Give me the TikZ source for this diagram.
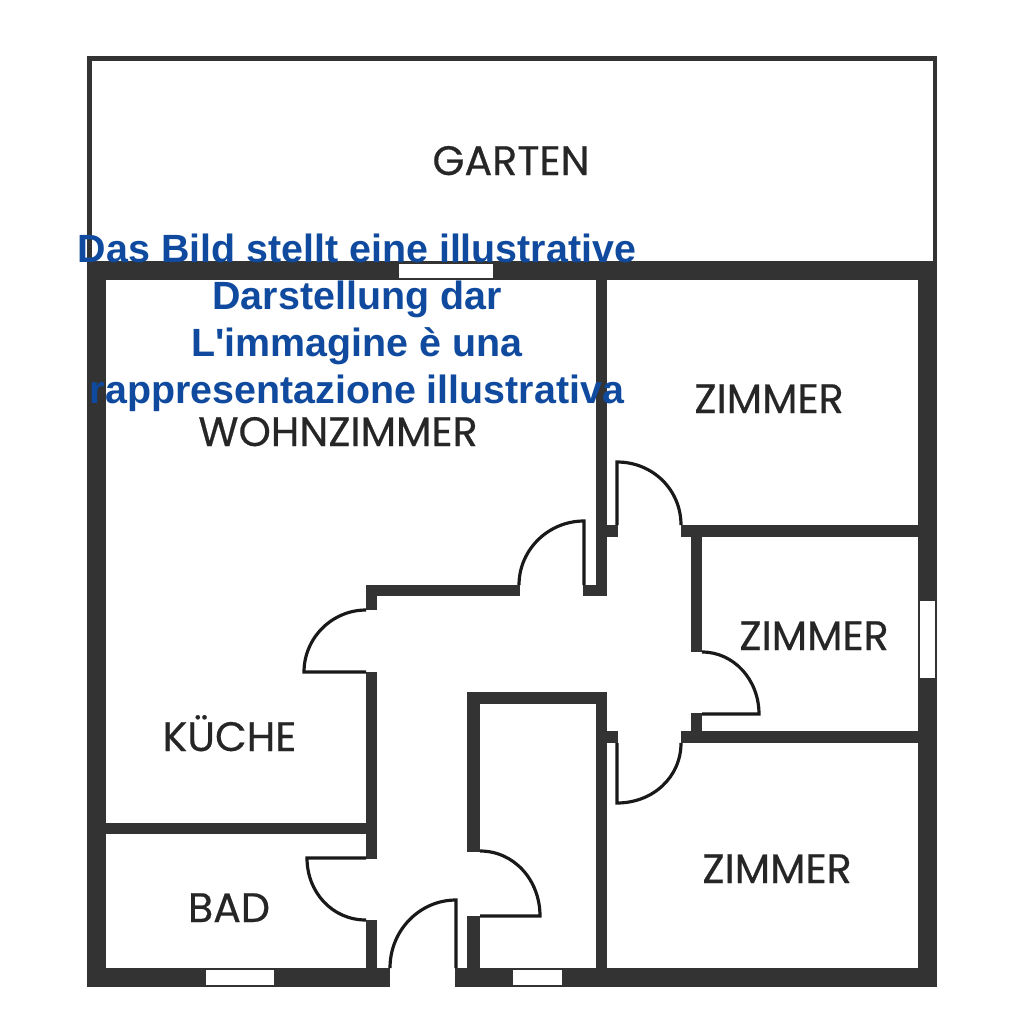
\documentclass[tikz,border=0pt]{standalone}
\usepackage{fontspec}
\setmainfont{Liberation Sans}
\newfontfamily\raumfont[FakeBold=0.5]{Poppins}
\definecolor{mauer}{HTML}{333333}
\definecolor{hinweis}{HTML}{0F4A9E}
\tikzset{
	wand/.style={fill=mauer},
	tuer/.style={draw=black!90, line width=.9pt, line join=miter},
	fenster/.style={fill=white},
	raum/.style={font=\raumfont\fontsize{11.7}{14}\selectfont, text=black!85, anchor=base, inner sep=0pt},
	schild/.style={font=\bfseries\fontsize{11.2}{13.37}\selectfont, text=hinweis, align=center, inner sep=0pt}
}
\begin{document}
\begin{tikzpicture}[x=0.01cm,y=-0.01cm]
 \useasboundingbox (0,0) rectangle (1024,1024);

	% Garten
 \draw[draw=mauer, line width=1.2pt] (89.5,262) -- (89.5,58.5) -- (935,58.5) -- (935,262);

	% Aussenwand
 \fill[wand] (87,261) rectangle (937,280);
 \fill[wand] (87,261) rectangle (106,987);
 \fill[wand] (918,261) rectangle (937,987);
 \fill[wand] (87,968) rectangle (390,987);
 \fill[wand] (455,968) rectangle (937,987);

	% Innenwand
 \fill[wand] (596,280) rectangle (607,596);
 \fill[wand] (583,585) rectangle (607,596);
 \fill[wand] (366,585) rectangle (520,596);
 \fill[wand] (366,585) rectangle (377,610);
 \fill[wand] (366,672) rectangle (377,859);
 \fill[wand] (106,823) rectangle (366,834);
 \fill[wand] (366,920) rectangle (377,968);
 \fill[wand] (467,692) rectangle (480,852);
 \fill[wand] (467,692) rectangle (607,704);
 \fill[wand] (596,692) rectangle (607,968);
 \fill[wand] (467,916) rectangle (480,968);
 \fill[wand] (607,525) rectangle (618,537);
 \fill[wand] (681,525) rectangle (918,537);
 \fill[wand] (691,537) rectangle (702,652);
 \fill[wand] (691,713) rectangle (702,731);
 \fill[wand] (607,731) rectangle (618,743);
 \fill[wand] (681,731) rectangle (918,743);

	% Fenster
 \fill[fenster] (399,264) rectangle (493,278);
 \fill[fenster] (206,970) rectangle (274,985);
 \fill[fenster] (513,970) rectangle (562,985);
 \fill[fenster] (920,601) rectangle (935,678);

	% Tueren
 \draw[tuer] (584,585) -- (584,521) .. controls (548,521) and (519,550) .. (519,585);
 \draw[tuer] (617,525) -- (617,462) .. controls (653,462) and (681,490) .. (681,525);
 \draw[tuer] (366,610) .. controls (332,610) and (304,638) .. (304,672) -- (366,672);
 \draw[tuer] (366,858) -- (307,858) .. controls (307,892) and (332,920) .. (366,920);
 \draw[tuer] (456,968) -- (456,900) .. controls (420,900) and (390,930) .. (390,968);
 \draw[tuer] (480,851) .. controls (514,851) and (540,880) .. (540,916) -- (480,916);
 \draw[tuer] (702,652) .. controls (734,652) and (759,680) .. (759,714) -- (702,714);
 \draw[tuer] (617,743) -- (617,803) .. controls (653,803) and (681,777) .. (681,743);

	% Raeume
 \node[raum] (garten) at (511,175) {GARTEN};
 \node[raum] (wohnzimmer) at (338,446) {WOHNZIMMER};
 \node[raum] (zimmer1) at (769,413) {ZIMMER};
 \node[raum] (zimmer2) at (814,650) {ZIMMER};
 \node[raum] (zimmer3) at (777,883) {ZIMMER};
 \node[raum] (kueche) at (229.5,751) {KÜCHE};
 \node[raum] (bad) at (229,922) {BAD};

	% Hinweis
 \node[schild] (hinweis) at (357,323) {Das Bild stellt eine illustrative\\Darstellung dar\\L\textquotesingle immagine è una\\rappresentazione illustrativa};

\end{tikzpicture}
\end{document}
